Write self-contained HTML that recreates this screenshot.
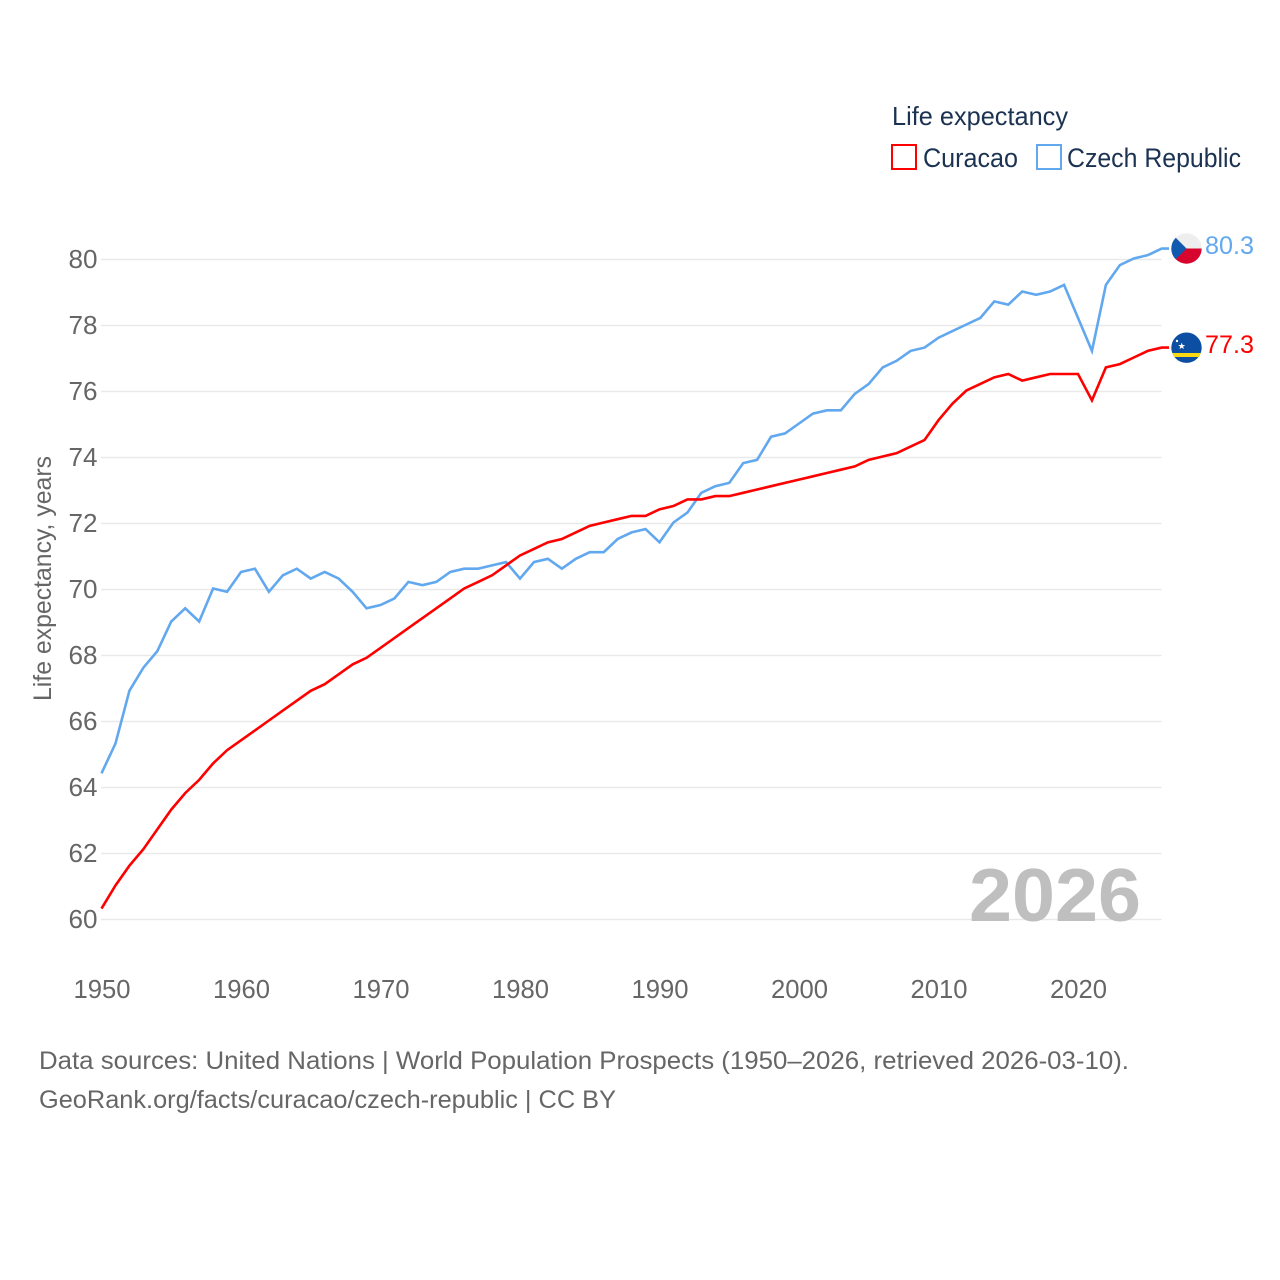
<!DOCTYPE html>
<html lang="en">
<head>
<meta charset="utf-8">
<title>Life expectancy: Curacao and Czech Republic</title>
<style>
html,body{margin:0;padding:0;background:#fff;}
svg{display:block;font-family:"Liberation Sans",sans-serif;}
.tick{font-size:26px;fill:#666;}
</style>
</head>
<body>
<svg id="chart" width="1280" height="1280" viewBox="0 0 1280 1280" xmlns="http://www.w3.org/2000/svg">
  <rect width="1280" height="1280" fill="#fff"/>
  <text x="892" y="125" font-size="26" fill="#1b3252" textLength="176" lengthAdjust="spacingAndGlyphs">Life expectancy</text>
  <g>
    <rect x="892" y="145" width="24" height="24" fill="#fff" stroke="#ff0000" stroke-width="2"/>
    <text x="923" y="167" font-size="27" fill="#1b3252" textLength="95" lengthAdjust="spacingAndGlyphs">Curacao</text>
  </g>
  <g>
    <rect x="1037" y="145" width="24" height="24" fill="#fff" stroke="#62a8ef" stroke-width="2"/>
    <text x="1067" y="167" font-size="27" fill="#1b3252" textLength="174" lengthAdjust="spacingAndGlyphs">Czech Republic</text>
  </g>
  <g id="grid"></g>
  <g id="yticks"></g>
  <g id="xticks"></g>
  <text transform="translate(51,701) rotate(-90)" font-size="25" fill="#666" textLength="245" lengthAdjust="spacingAndGlyphs">Life expectancy, years</text>
  <text x="969" y="921" font-size="75" font-weight="bold" fill="#bfbfbf" textLength="172" lengthAdjust="spacingAndGlyphs">2026</text>
  <g id="series"></g>

  <g>
    <clipPath id="clip-cz"><circle cx="1186.5" cy="248.5" r="15.2"/></clipPath>
    <g clip-path="url(#clip-cz)">
      <rect x="1171" y="233" width="31" height="15.5" fill="#eeeeee"/>
      <rect x="1171" y="248.5" width="31" height="16" fill="#d7052d"/>
      <path d="M1171 233 L1186.5 248.5 L1171 264 Z" fill="#1059ae"/>
    </g>
  </g>
  <text x="1205" y="254" font-size="25" fill="#62a8ef" textLength="49" lengthAdjust="spacingAndGlyphs">80.3</text>

  <g>
    <clipPath id="clip-cw"><circle cx="1186.5" cy="347.7" r="15.2"/></clipPath>
    <g clip-path="url(#clip-cw)">
      <rect x="1171" y="332" width="31" height="32" fill="#0b4ea2"/>
      <rect x="1171" y="353" width="31" height="4" fill="#f9d90f"/>
      <polygon points="1181.7,342.6 1182.6,345 1185.2,345 1183.1,346.6 1183.9,349.1 1181.7,347.6 1179.5,349.1 1180.3,346.6 1178.2,345 1180.8,345" fill="#fff"/>
      <circle cx="1177" cy="341" r="1.2" fill="#fff"/>
    </g>
  </g>
  <text x="1205" y="353" font-size="25" fill="#ff0000" textLength="49" lengthAdjust="spacingAndGlyphs">77.3</text>

  <text x="39" y="1069" font-size="25" fill="#666" textLength="1090" lengthAdjust="spacingAndGlyphs">Data sources: United Nations | World Population Prospects (1950–2026, retrieved 2026-03-10).</text>
  <text x="39" y="1108" font-size="25" fill="#666" textLength="577" lengthAdjust="spacingAndGlyphs">GeoRank.org/facts/curacao/czech-republic | CC BY</text>
</svg>
<script>
const startYear = 1950;
const curacaoValues = [60.3,61.0,61.6,62.1,62.7,63.3,63.8,64.2,64.7,65.1,65.4,65.7,66.0,66.3,66.6,66.9,67.1,67.4,67.7,67.9,68.2,68.5,68.8,69.1,69.4,69.7,70.0,70.2,70.4,70.7,71.0,71.2,71.4,71.5,71.7,71.9,72.0,72.1,72.2,72.2,72.4,72.5,72.7,72.7,72.8,72.8,72.9,73.0,73.1,73.2,73.3,73.4,73.5,73.6,73.7,73.9,74.0,74.1,74.3,74.5,75.1,75.6,76.0,76.2,76.4,76.5,76.3,76.4,76.5,76.5,76.5,75.7,76.7,76.8,77.0,77.2,77.3];
const czechValues = [64.4,65.3,66.9,67.6,68.1,69.0,69.4,69.0,70.0,69.9,70.5,70.6,69.9,70.4,70.6,70.3,70.5,70.3,69.9,69.4,69.5,69.7,70.2,70.1,70.2,70.5,70.6,70.6,70.7,70.8,70.3,70.8,70.9,70.6,70.9,71.1,71.1,71.5,71.7,71.8,71.4,72.0,72.3,72.9,73.1,73.2,73.8,73.9,74.6,74.7,75.0,75.3,75.4,75.4,75.9,76.2,76.7,76.9,77.2,77.3,77.6,77.8,78.0,78.2,78.7,78.6,79.0,78.9,79.0,79.2,78.2,77.2,79.2,79.8,80.0,80.1,80.3];
const yTickValues = [60,62,64,66,68,70,72,74,76,78,80];
const xTickYears = [1950,1960,1970,1980,1990,2000,2010,2020];

const SVG_NS = 'http://www.w3.org/2000/svg';
function xScale(year){ return 101.5 + (year - 1950) * 13.95; }
function yScale(v){ return 919.5 - (v - 60) * 33; }
function lineY(v){ return yScale(v) - 1; }

const grid = document.getElementById('grid');
const yticks = document.getElementById('yticks');
const xticks = document.getElementById('xticks');
const series = document.getElementById('series');

yTickValues.forEach(function(v){
  const line = document.createElementNS(SVG_NS, 'line');
  
  
  line.setAttribute('x1', 101);
  line.setAttribute('x2', 1161.5);
  line.setAttribute('y1', yScale(v));
  line.setAttribute('y2', yScale(v));
  line.setAttribute('stroke', '#e9e9e9');
  line.setAttribute('stroke-width', 1.5);
  grid.appendChild(line);
  const t = document.createElementNS(SVG_NS, 'text');
  
  
  t.setAttribute('class', 'tick');
  t.setAttribute('x', 68.5);
  t.setAttribute('y', yScale(v) + 8.5);
  t.setAttribute('textLength', 29);
  t.setAttribute('lengthAdjust', 'spacingAndGlyphs');
  t.textContent = String(v);
  yticks.appendChild(t);
});

xTickYears.forEach(function(y){
  const t = document.createElementNS(SVG_NS, 'text');
  
  
  t.setAttribute('class', 'tick');
  t.setAttribute('x', xScale(y) - 28);
  t.setAttribute('y', 998);
  t.setAttribute('textLength', 57);
  t.setAttribute('lengthAdjust', 'spacingAndGlyphs');
  t.textContent = String(y);
  xticks.appendChild(t);
});

function linePoints(values){
  const pts = values.map(function(v, i){
    return xScale(startYear + i).toFixed(2) + ',' + lineY(v).toFixed(2);
  });
  const last = values[values.length - 1];
  pts.push('1169,' + lineY(last).toFixed(2));
  return pts.join(' ');
}

const czechLine = document.createElementNS(SVG_NS, 'polyline');


czechLine.setAttribute('points', linePoints(czechValues));
czechLine.setAttribute('fill', 'none');
czechLine.setAttribute('stroke', '#62a8ef');
czechLine.setAttribute('stroke-width', 2.6);
series.appendChild(czechLine);

const curacaoLine = document.createElementNS(SVG_NS, 'polyline');


curacaoLine.setAttribute('points', linePoints(curacaoValues));
curacaoLine.setAttribute('fill', 'none');
curacaoLine.setAttribute('stroke', '#ff0000');
curacaoLine.setAttribute('stroke-width', 2.6);
series.appendChild(curacaoLine);
</script>
</body>
</html>
